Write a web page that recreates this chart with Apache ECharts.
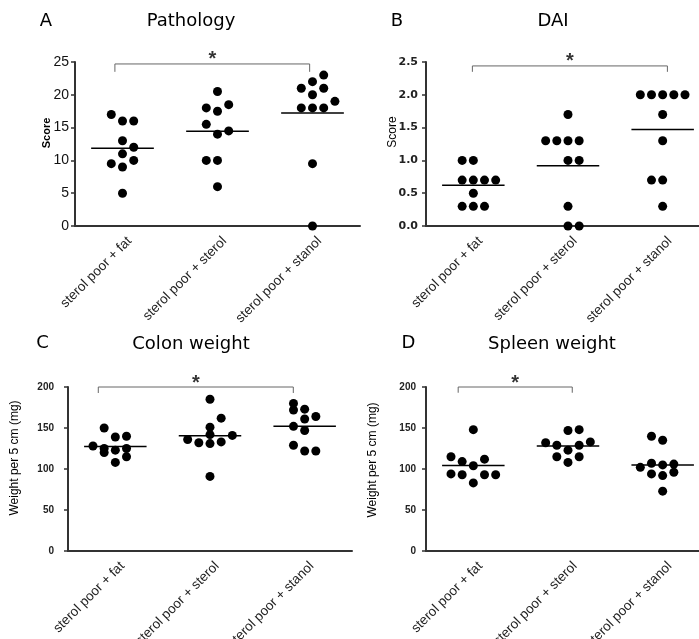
<!DOCTYPE html>
<html><head><meta charset="utf-8">
<script src="https://cdn.jsdelivr.net/npm/echarts@6/dist/echarts.min.js"></script>
<style>html,body{margin:0;padding:0;background:#fff}#c{width:699px;height:639px}</style>
</head><body><div id="c"></div>
<script>
// ---- data ----
const categories = ['sterol poor + fat', 'sterol poor + sterol', 'sterol poor + stanol'];

const pathologyTicks = [0, 5, 10, 15, 20, 25];
const pathologyFat    = [17, 16, 16, 13, 12, 11, 9.5, 10, 9, 5];
const pathologySterol = [20.5, 18, 17.5, 18.5, 15.5, 14, 14.5, 10, 10, 6];
const pathologyStanol = [23, 22, 21, 21, 20, 19, 18, 18, 18, 9.5, 0];
const pathologySlotsFat    = [-1, 0, 1, 0, 1, 0, -1, 1, 0, 0];
const pathologySlotsSterol = [0, -1, 0, 1, -1, 0, 1, -1, 0, 0];
const pathologySlotsStanol = [1, 0, -1, 1, 0, 2, -1, 0, 1, 0, 0];

const daiTicks = [0, 0.5, 1.0, 1.5, 2.0, 2.5];
const daiFat    = [1.0, 1.0, 0.7, 0.7, 0.7, 0.7, 0.5, 0.3, 0.3, 0.3];
const daiSterol = [1.7, 1.3, 1.3, 1.3, 1.3, 1.0, 1.0, 0.3, 0, 0];
const daiStanol = [2.0, 2.0, 2.0, 2.0, 2.0, 1.7, 1.3, 0.7, 0.7, 0.3];
const daiSlotsFat    = [-1, 0, -1, 0, 1, 2, 0, -1, 0, 1];
const daiSlotsSterol = [0, -2, -1, 0, 1, 0, 1, 0, 0, 1];
const daiSlotsStanol = [-2, -1, 0, 1, 2, 0, 0, -1, 0, 0];

const colonTicks = [0, 50, 100, 150, 200];
const colonFat    = [150, 139, 140, 128, 125, 123, 125, 120, 115, 108];
const colonSterol = [185, 162, 151, 142, 136, 132, 131, 133, 141, 91];
const colonStanol = [180, 172, 173, 161, 164, 152, 147, 129, 122, 122];
const colonSlotsFat    = [-1, 0, 1, -2, -1, 0, 1, -1, 1, 0];
const colonSlotsSterol = [0, 1, 0, 0, -2, -1, 0, 1, 2, 0];
const colonSlotsStanol = [-1, -1, 0, 0, 1, -1, 0, -1, 0, 1];

const spleenTicks = [0, 50, 100, 150, 200];
const spleenFat    = [148, 115, 109, 112, 104, 94, 93, 93, 93, 83];
const spleenSterol = [147, 148, 132, 129, 129, 133, 123, 115, 115, 108];
const spleenStanol = [140, 135, 102, 107, 105, 106, 94, 92, 96, 73];
const spleenSlotsFat    = [0, -2, -1, 1, 0, -2, -1, 1, 2, 0];
const spleenSlotsSterol = [0, 1, -2, -1, 1, 2, 0, -1, 1, 0];
const spleenSlotsStanol = [-1, 0, -2, -1, 0, 1, -1, 0, 1, 0];

// ---- layout / style ----
const SLOT = 0.118;       // horizontal dot spacing, in category units
const MEAN_HALF = 0.33;   // half length of mean line, in category units
const AX = '#333';

const panels = [
  { grid: {left: 75, top: 62, width: 285, height: 164}, ticks: pathologyTicks,
    groups: [pathologyFat, pathologySterol, pathologyStanol],
    slots: [pathologySlotsFat, pathologySlotsSterol, pathologySlotsStanol],
    fmt: v => String(v), label: {fontSize: 14, fontFamily: 'Liberation Sans', color: '#111', margin: 6},
    bracket: {x1: 0.42, x2: 2.47, top: 24.7, bottom: 23.5} },
  { grid: {left: 426, top: 62, width: 284, height: 164}, ticks: daiTicks,
    groups: [daiFat, daiSterol, daiStanol],
    slots: [daiSlotsFat, daiSlotsSterol, daiSlotsStanol],
    fmt: v => v.toFixed(1), label: {fontSize: 11, fontWeight: 'bold', fontFamily: 'DejaVu Sans', color: '#222', margin: 8},
    bracket: {x1: 0.49, x2: 2.55, top: 2.44, bottom: 2.35} },
  { grid: {left: 68, top: 387, width: 284, height: 164}, ticks: colonTicks,
    groups: [colonFat, colonSterol, colonStanol],
    slots: [colonSlotsFat, colonSlotsSterol, colonSlotsStanol],
    fmt: v => String(v), label: {fontSize: 10, fontWeight: 'bold', fontFamily: 'Liberation Sans', color: '#222', margin: 14},
    bracket: {x1: 0.32, x2: 2.38, top: 200, bottom: 192.7} },
  { grid: {left: 426, top: 387, width: 284, height: 164}, ticks: spleenTicks,
    groups: [spleenFat, spleenSterol, spleenStanol],
    slots: [spleenSlotsFat, spleenSlotsSterol, spleenSlotsStanol],
    fmt: v => String(v), label: {fontSize: 10, fontWeight: 'bold', fontFamily: 'Liberation Sans', color: '#222', margin: 10},
    bracket: {x1: 0.34, x2: 1.545, top: 200, bottom: 193} }
];

const option = {animation: false, grid: [], xAxis: [], yAxis: [], series: [], graphic: []};

panels.forEach((p, i) => {
  option.grid.push(Object.assign({outerBoundsMode: 'none', containLabel: false}, p.grid));
  option.xAxis.push({
    type: 'category', gridIndex: i, data: categories, boundaryGap: true,
    axisLine: {lineStyle: {color: AX, width: 2}},
    axisTick: {alignWithLabel: true, length: 4, lineStyle: {color: AX, width: 1.5}},
    axisLabel: {rotate: 45, interval: 0, fontSize: 13.5, fontFamily: 'Liberation Sans', color: '#222',
      margin: 6, verticalAlign: 'top', lineHeight: 20}
  });
  option.xAxis.push({type: 'value', gridIndex: i, min: 0, max: 3, show: false});
  const t = p.ticks;
  option.yAxis.push({
    type: 'value', gridIndex: i, min: t[0], max: t[t.length - 1], interval: t[1] - t[0],
    axisLine: {show: true, lineStyle: {color: AX, width: 2}},
    axisTick: {show: true, length: 4, lineStyle: {color: AX, width: 1.5}},
    splitLine: {show: false},
    axisLabel: Object.assign({formatter: p.fmt}, p.label)
  });
  const pts = [];
  p.groups.forEach((vals, g) => {
    vals.forEach((v, k) => pts.push([g + 0.5 + p.slots[g][k] * SLOT, v]));
    const mean = vals.reduce((a, b) => a + b, 0) / vals.length;
    option.series.push({
      type: 'line', xAxisIndex: 2 * i + 1, yAxisIndex: i, symbol: 'none', silent: true,
      lineStyle: {color: '#000', width: 1.5}, z: 2,
      data: [[g + 0.5 - MEAN_HALF, mean], [g + 0.5 + MEAN_HALF, mean]]
    });
  });
  option.series.push({
    type: 'scatter', xAxisIndex: 2 * i + 1, yAxisIndex: i, data: pts, clip: false,
    symbolSize: 9, itemStyle: {color: '#000', opacity: 1}, z: 3
  });
  const b = p.bracket;
  option.series.push({
    type: 'line', xAxisIndex: 2 * i + 1, yAxisIndex: i, symbol: 'none', clip: false,
    lineStyle: {color: '#666', width: 1},
    data: [[b.x1, b.bottom], [b.x1, b.top], [b.x2, b.top], [b.x2, b.bottom]]
  });
  option.series.push({
    type: 'scatter', xAxisIndex: 2 * i + 1, yAxisIndex: i, symbolSize: 0, clip: false,
    data: [[(b.x1 + b.x2) / 2, b.top]],
    label: {show: true, formatter: '*', position: 'top', distance: -6,
      fontSize: 20, fontWeight: 'bold', fontFamily: 'Liberation Sans', color: '#000'}
  });
});

function txt(x, y, text, size, opts) {
  return Object.assign({type: 'text', x: x, y: y, style: Object.assign({
    text: text, fontSize: size, fontFamily: 'DejaVu Sans', fill: '#000', align: 'center', verticalAlign: 'middle'
  }, opts || {})});
}
option.graphic = [
  txt(46, 21, 'A', 18), txt(191, 21, 'Pathology', 18),
  txt(397, 21, 'B', 18), txt(553, 21, 'DAI', 18),
  txt(42.5, 343.5, 'C', 18), txt(191, 344.5, 'Colon weight', 18),
  txt(408.5, 343.5, 'D', 18), txt(552, 344.5, 'Spleen weight', 18),
  Object.assign(txt(46.5, 133, 'Score', 11, {fontFamily: 'Liberation Sans', fontWeight: 'bold'}), {rotation: Math.PI / 2}),
  Object.assign(txt(393, 132, 'Score', 12, {fontFamily: 'Liberation Sans'}), {rotation: Math.PI / 2}),
  Object.assign(txt(15, 458, 'Weight per 5 cm (mg)', 12, {fontFamily: 'Liberation Sans'}), {rotation: Math.PI / 2}),
  Object.assign(txt(373, 460, 'Weight per 5 cm (mg)', 12, {fontFamily: 'Liberation Sans'}), {rotation: Math.PI / 2})
];

const chart = echarts.init(document.getElementById('c'), null, {renderer: 'canvas'});
chart.setOption(option);
</script></body></html>
